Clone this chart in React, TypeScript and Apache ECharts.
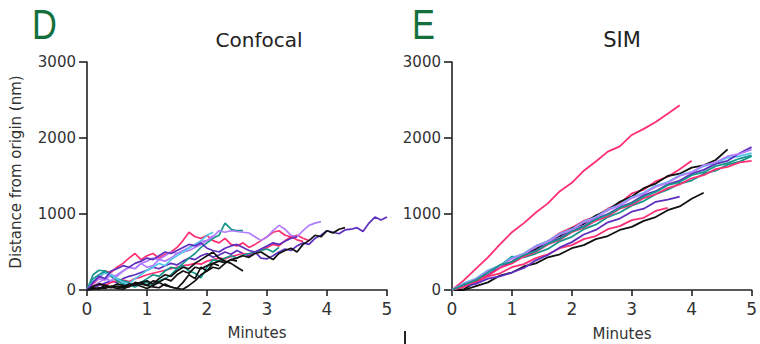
import React, { useEffect, useRef } from "react";
import * as echarts from "echarts";

const xTicks = [0, 1, 2, 3, 4, 5];
const yTicks = [0, 1000, 2000, 3000];
const panelTitles = ["Confocal", "SIM"];
const panelLetters = ["D", "E"];
const xTitle = "Minutes";
const yTitle = "Distance from origin (nm)";

const PINK = "#ff2f72";
const PURPLE = "#5e2fbf";
const LAVENDER = "#b27dff";
const TEAL = "#16968b";
const CYAN = "#55c6ec";
const BLACK = "#111111";

// Confocal: sampled every 0.1 min
const confocalStep = 0.1;
const confocalColors = [PURPLE, PINK, PINK, TEAL, TEAL, LAVENDER, LAVENDER, CYAN, BLACK, BLACK, BLACK, PURPLE, BLACK];
const confocal1 = [0,30,60,90,120,100,150,180,200,230,260,300,280,320,350,330,380,420,400,450,480,430,460,500,470,520,480,450,500,420,410,450,500,540,520,580,620,600,680,720,780,760,740,790,800,820,770,880,960,920,960];
const confocal2 = [0,80,150,250,230,300,350,420,480,400,450,480,420,470,500,560,650,760,700,680,720,650,620,680,600,580,620,560,600,650,700,760,780,720,700,660,640];
const confocal3 = [0,50,80,60,100,120,130,110,150,170,200,220,240,260,280,300,320,330,350,340,380,400,420,410,440,460,480,470,500,520,560,600,580,650,700,720,680,650];
const confocal4 = [0,150,200,250,180,120,80,60,40,80,100,60,120,150,200,280,350,420,480,560,620,680,720,880,800,780,780];
const confocal5 = [0,200,260,250,200,150,120,100,60,100,150,200,180,250,300,280,320,250,220,160,300,400,380,420,450,420,460,480,500,520,540,500,560];
const confocal6 = [0,50,100,150,120,200,250,300,280,350,380,420,400,450,500,480,520,560,600,640,650,700,780,760,780,770,760,750,700,650,700,780,850,800,720,700,780,850,880,900];
const confocal7 = [0,100,150,130,200,180,250,300,280,350,300,320,400,380,420,480,500,520,560,600,650,720];
const confocal8 = [0,120,180,220,200,150,100,80,150,200,260,300,350,320,400,450,500,550,600,650,720,760];
const confocal9 = [0,20,10,40,30,50,40,80,60,100,120,80,150,200,180,250,300,280,350,400,450,500,420,380,350,300,250];
const confocal10 = [0,10,30,20,50,40,30,60,80,50,20,60,100,150,120,200,250,220,300,280,320,350,380,360,400,420,450,430,480,500,450,400,480,520,550,500,600,650,720,700,780,750,800,820];
const confocal11 = [0,50,80,60,40,20,10,50,80,100,60,40,30,80,40,20,100,200,150,300,250,350,320];
const confocal12 = [0,100,180,150,250,280,320,300,350,380,420,400,450,500,480,520,560,600,580,620,550,520,500,550,580,600,560,520,500,540,580,620,600,640,680,700];
const confocal13 = [0,30,20,60,40,80,60,40,100,80,60,120,100,60,40,20,10,60,120,200,250,300,280,350,400,380];
const confocalSeries = [confocal1, confocal2, confocal3, confocal4, confocal5, confocal6, confocal7, confocal8, confocal9, confocal10, confocal11, confocal12, confocal13];

// SIM: sampled every 0.2 min
const simStep = 0.2;
const simColors = [PINK, PINK, BLACK, BLACK, PINK, PURPLE, TEAL, CYAN, PURPLE, LAVENDER, PINK, TEAL];
const sim1 = [0,130,280,430,600,760,880,1020,1140,1300,1410,1570,1690,1820,1890,2040,2120,2210,2320,2430];
const sim2 = [0,70,140,250,320,420,480,580,640,750,820,910,970,1070,1140,1270,1320,1430,1490,1590,1700];
const sim3 = [0,10,110,190,300,370,470,540,640,710,810,870,980,1050,1160,1230,1340,1400,1500,1530,1610,1640,1710,1850];
const sim4 = [0,0,50,100,190,230,310,350,430,470,550,590,670,710,790,830,910,960,1050,1100,1200,1280];
const sim5 = [0,60,100,180,220,300,340,420,470,550,590,670,710,800,840,920,950,1040,1080];
const sim6 = [0,50,80,150,180,230,290,390,460,560,630,730,790,890,940,1030,1070,1160,1190,1230];
const sim7 = [0,80,140,240,320,440,430,480,540,640,700,800,860,960,1020,1110,1170,1260,1320,1400,1440,1530,1570,1650,1690,1760];
const sim8 = [0,90,150,260,320,420,480,580,640,740,800,900,960,1060,1120,1220,1280,1370,1420,1510,1550,1630,1670,1740,1760,1800];
const sim9 = [0,50,140,200,300,360,460,520,620,680,780,840,940,1000,1090,1150,1250,1300,1390,1440,1530,1580,1660,1700,1800,1880];
const sim10 = [0,80,140,250,310,410,470,570,630,730,790,890,950,1050,1110,1210,1270,1360,1410,1500,1550,1640,1680,1760,1790,1850];
const sim11 = [0,40,130,190,290,350,440,500,600,660,760,820,910,970,1070,1120,1210,1260,1340,1390,1470,1510,1590,1620,1680,1700];
const sim12 = [0,70,130,230,330,370,460,510,610,670,770,830,930,990,1080,1140,1230,1290,1380,1420,1510,1550,1630,1670,1730,1770];
const simSeries = [sim1, sim2, sim3, sim4, sim5, sim6, sim7, sim8, sim9, sim10, sim11, sim12];

const FONT = "DejaVu Sans, sans-serif";
const LETTER_FONT = "Liberation Sans, Arial, sans-serif";

function toPairs(vals: number[], step: number) {
  return vals.map((v, i) => [+(i * step).toFixed(2), v]);
}

function makeX(gridIndex: number) {
  return {
    type: "value", gridIndex, min: xTicks[0], max: xTicks[xTicks.length - 1], interval: 1,
    axisLine: { show: true, onZero: false, lineStyle: { color: "#222", width: 1.6 } },
    axisTick: { show: true, length: 6, lineStyle: { color: "#222", width: 1.6 } },
    axisLabel: { fontSize: 17, color: "#333", margin: 10, fontFamily: FONT },
    splitLine: { show: false },
  };
}
function makeY(gridIndex: number) {
  return {
    type: "value", gridIndex, min: yTicks[0], max: yTicks[yTicks.length - 1], interval: 1000,
    axisLine: { show: true, lineStyle: { color: "#222", width: 1.6 } },
    axisTick: { show: true, length: 8, lineStyle: { color: "#222", width: 1.6 } },
    axisLabel: { fontSize: 15, color: "#333", margin: 11, fontFamily: FONT, formatter: (v: number) => String(v) },
    splitLine: { show: false },
  };
}

export default function App() {
  const ref = useRef<HTMLDivElement>(null);
  useEffect(() => {
    if (!ref.current) return;
    const chart = echarts.init(ref.current, undefined, { renderer: "svg" });
    const series: any[] = [];
    confocalSeries.forEach((s, i) => series.push({
      type: "line", xAxisIndex: 0, yAxisIndex: 0, data: toPairs(s, confocalStep),
      showSymbol: false, symbol: "none", lineStyle: { color: confocalColors[i], width: 1.7 },
    }));
    simSeries.forEach((s, i) => series.push({
      type: "line", xAxisIndex: 1, yAxisIndex: 1, data: toPairs(s, simStep),
      showSymbol: false, symbol: "none", lineStyle: { color: simColors[i], width: 1.8 },
    }));
    chart.setOption({
      animation: false,
      grid: [
        { left: 87, top: 62, width: 300, height: 228 },
        { left: 452, top: 62, width: 300, height: 228 },
      ],
      xAxis: [makeX(0), makeX(1)],
      yAxis: [makeY(0), makeY(1)],
      series,
      graphic: [
        { type: "text", x: 32, y: 3, scaleX: 0.8, style: { text: panelLetters[0], fontSize: 43, fill: "#13703d", fontFamily: LETTER_FONT } },
        { type: "text", x: 412, y: 3, scaleX: 0.8, style: { text: panelLetters[1], fontSize: 43, fill: "#13703d", fontFamily: LETTER_FONT } },
        { type: "text", x: 259, y: 40, style: { text: panelTitles[0], fontSize: 20, fill: "#222", fontFamily: FONT, align: "center", verticalAlign: "middle" } },
        { type: "text", x: 622, y: 40, style: { text: panelTitles[1], fontSize: 21, fill: "#222", fontFamily: FONT, align: "center", verticalAlign: "middle" } },
        { type: "text", x: 257, y: 333, style: { text: xTitle, fontSize: 15, fill: "#333", fontFamily: FONT, align: "center", verticalAlign: "middle" } },
        { type: "text", x: 622, y: 334, style: { text: xTitle, fontSize: 15, fill: "#333", fontFamily: FONT, align: "center", verticalAlign: "middle" } },
        { type: "text", x: 16, y: 172, rotation: Math.PI / 2, style: { text: yTitle, fontSize: 15, fill: "#333", fontFamily: FONT, align: "center", verticalAlign: "middle" } },
        { type: "rect", shape: { x: 404, y: 331, width: 2, height: 13 }, style: { fill: "#222" } },
      ],
    });
    return () => chart.dispose();
  }, []);
  return <div ref={ref} style={{ width: 760, height: 344, position: "absolute", left: 0, top: 0 }} />;
}
